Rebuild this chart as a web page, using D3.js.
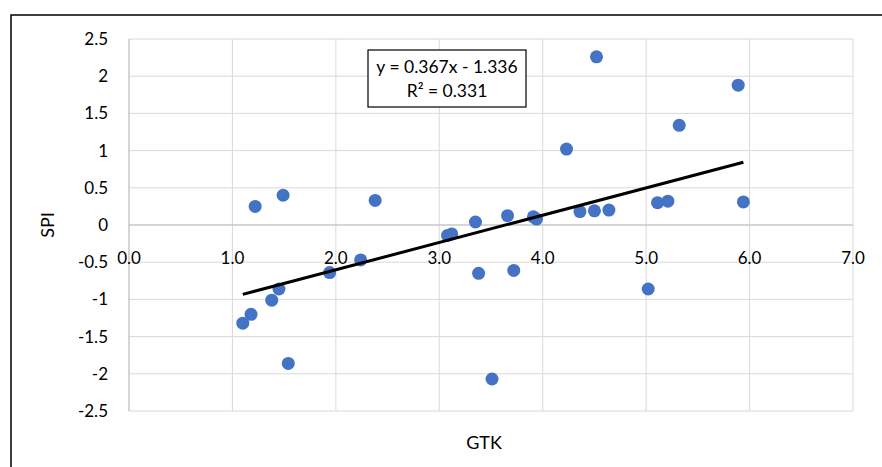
<!DOCTYPE html>
<html>
<head>
<meta charset="utf-8">
<script src="https://cdn.jsdelivr.net/npm/d3@7"></script>
<style>
  body { margin: 0; background: #fff; }
  text { font-family: Lato, "Open Sans", sans-serif; fill: #000; }
</style>
</head>
<body>
<div id="chart"></div>
<script>
// GTK vs SPI values
const gtk = [1.10, 1.18, 1.22, 1.49, 1.38, 1.45, 1.54, 1.94, 2.24, 2.38,
             3.08, 3.12, 3.35, 3.38, 3.51, 3.66, 3.72, 3.91, 3.94, 4.23,
             4.36, 4.50, 4.52, 4.64, 5.02, 5.11, 5.21, 5.32, 5.89, 5.94];
const spi = [-1.32, -1.20, 0.25, 0.40, -1.01, -0.86, -1.86, -0.64, -0.47, 0.33,
             -0.14, -0.12, 0.04, -0.65, -2.07, 0.125, -0.61, 0.11, 0.08, 1.02,
             0.18, 0.19, 2.26, 0.20, -0.86, 0.30, 0.32, 1.34, 1.88, 0.31];
const xTicks = [0, 1, 2, 3, 4, 5, 6, 7];
const yTicks = [-2.5, -2, -1.5, -1, -0.5, 0, 0.5, 1, 1.5, 2, 2.5];
const slope = 0.367, intercept = -1.336;
const eqLines = ["y = 0.367x - 1.336", "R² = 0.331"];

const width = 882, height = 467;
const plotLeft = 129, plotRight = 853, plotTop = 39, plotBottom = 411;

const svg = d3.select("#chart").append("svg")
    .attr("width", width)
    .attr("height", height);

// chart border (right and bottom fall outside the picture)
svg.append("rect")
    .attr("x", 11).attr("y", 15)
    .attr("width", 1000).attr("height", 600)
    .attr("fill", "none").attr("stroke", "#000").attr("stroke-width", 1.5);

const x = d3.scaleLinear().domain([0, 7]).range([plotLeft, plotRight]);
const y = d3.scaleLinear().domain([-2.5, 2.5]).range([plotBottom, plotTop]);

// gridlines
svg.append("g").selectAll("line").data(yTicks).enter().append("line")
    .attr("x1", plotLeft).attr("x2", plotRight)
    .attr("y1", d => y(d)).attr("y2", d => y(d))
    .attr("stroke", "#d9d9d9").attr("stroke-width", 1);
svg.append("g").selectAll("line").data(xTicks).enter().append("line")
    .attr("x1", d => x(d)).attr("x2", d => x(d))
    .attr("y1", plotTop).attr("y2", plotBottom)
    .attr("stroke", "#d9d9d9").attr("stroke-width", 1);

// axis lines
svg.append("line")
    .attr("x1", plotLeft).attr("x2", plotRight).attr("y1", y(0)).attr("y2", y(0))
    .attr("stroke", "#bfbfbf");
svg.append("line")
    .attr("x1", x(0)).attr("x2", x(0)).attr("y1", plotTop).attr("y2", plotBottom)
    .attr("stroke", "#bfbfbf");

// y tick labels (plain hyphen for negatives, like the source)
svg.append("g").selectAll("text").data(yTicks).enter().append("text")
    .attr("x", 108).attr("y", d => y(d))
    .attr("dy", "0.35em")
    .attr("text-anchor", "end")
    .attr("font-size", 17)
    .text(d => String(d));

// x tick labels, sitting under the zero line
svg.append("g").selectAll("text").data(xTicks).enter().append("text")
    .attr("x", d => x(d)).attr("y", y(0) + 39)
    .attr("text-anchor", "middle")
    .attr("font-size", 17)
    .text(d => d.toFixed(1));

// points
svg.append("g").selectAll("circle").data(gtk).enter().append("circle")
    .attr("cx", d => x(d))
    .attr("cy", (d, i) => y(spi[i]))
    .attr("r", 6.5)
    .attr("fill", "#4472c4");

// linear trend line over the data range
const xMin = d3.min(gtk), xMax = d3.max(gtk);
svg.append("line")
    .attr("x1", x(xMin)).attr("y1", y(slope * xMin + intercept))
    .attr("x2", x(xMax)).attr("y2", y(slope * xMax + intercept))
    .attr("stroke", "#000").attr("stroke-width", 3);

// equation box
svg.append("rect")
    .attr("x", 368).attr("y", 50).attr("width", 158).attr("height", 57)
    .attr("fill", "#fff").attr("stroke", "#000").attr("stroke-width", 1.2);
svg.append("g").selectAll("text").data(eqLines).enter().append("text")
    .attr("x", 447).attr("y", (d, i) => 73 + i * 24)
    .attr("text-anchor", "middle")
    .attr("font-size", 17.5)
    .text(d => d);

// axis titles
svg.append("text")
    .attr("x", 484).attr("y", 449)
    .attr("text-anchor", "middle")
    .attr("font-size", 18)
    .text("GTK");
svg.append("text")
    .attr("transform", "translate(54,225) rotate(-90)")
    .attr("text-anchor", "middle")
    .attr("font-size", 18)
    .text("SPI");
</script>
</body>
</html>
